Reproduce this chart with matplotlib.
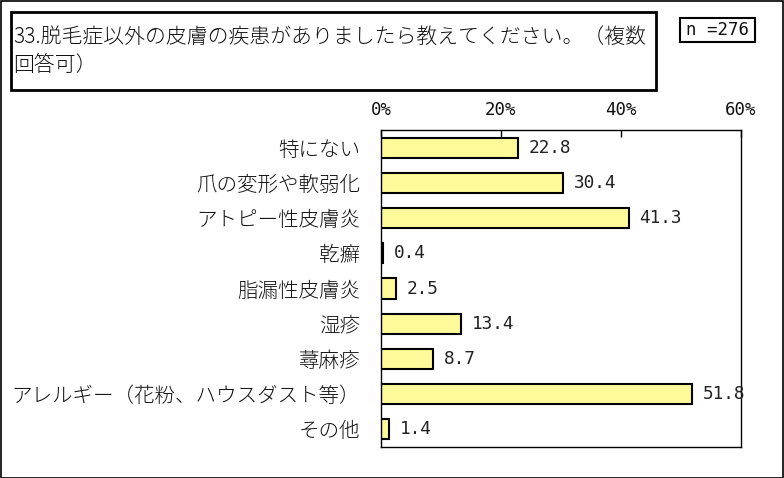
import matplotlib
matplotlib.use("Agg")
import matplotlib.pyplot as plt
from matplotlib.patches import Rectangle

plt.rcParams['font.family'] = ['Noto Sans CJK JP', 'DejaVu Sans']

categories = ["特にない", "爪の変形や軟弱化", "アトピー性皮膚炎", "乾癬", "脂漏性皮膚炎",
              "湿疹", "蕁麻疹", "アレルギー（花粉、ハウスダスト等）", "その他"]
values = [22.8, 30.4, 41.3, 0.4, 2.5, 13.4, 8.7, 51.8, 1.4]
xticks = [0, 20, 40, 60]
xtick_labels = ["0%", "20%", "40%", "60%"]
title = "33.脱毛症以外の皮膚の疾患がありましたら教えてください。（複数\n回答可）"
n_label = "n =276"

W, H = 784, 478
fig = plt.figure(figsize=(W / 100, H / 100), dpi=100)
mono = ['DejaVu Sans Mono']

# outer frame
fig.add_artist(Rectangle((0.5 / W, 0.5 / H), 1 - 1.5 / W, 1 - 1.5 / H, transform=fig.transFigure,
                         fill=False, edgecolor="black", linewidth=1.2))

# title box
x0, y0, x1, y1 = 11, 12, 656, 90
fig.add_artist(Rectangle((x0 / W, 1 - y1 / H), (x1 - x0) / W, (y1 - y0) / H, transform=fig.transFigure,
                         fill=False, edgecolor="black", linewidth=2))
fig.text(13 / W, 1 - 37 / H, title.split("\n")[0], ha="left", va="center", fontsize=15,
         fontweight="light", color="#111111")
fig.text(13 / W, 1 - 65 / H, title.split("\n")[1], ha="left", va="center", fontsize=15,
         fontweight="light", color="#111111")

# n box
nx0, ny0, nx1, ny1 = 680, 18, 755, 42
fig.add_artist(Rectangle((nx0 / W, 1 - ny1 / H), (nx1 - nx0) / W, (ny1 - ny0) / H, transform=fig.transFigure,
                         fill=False, edgecolor="black", linewidth=1.5))
fig.text((nx0 + nx1) / 2 / W, 1 - (ny0 + ny1) / 2 / H, n_label, ha="center", va="center",
         fontsize=12.5, family=mono, color="#111111")

left, right, top, bottom = 381, 741, 130, 447
ax = fig.add_axes([left / W, 1 - bottom / H, (right - left) / W, (bottom - top) / H])
ypos = list(range(len(categories)))
ax.barh(ypos, values, height=0.57, color="#FFFA99", edgecolor="black", linewidth=1.5, zorder=2)
ax.set_xlim(0, 60)
ax.set_ylim(len(categories) - 0.5, -0.5)
ax.set_yticks(ypos)
ax.set_yticklabels(categories, fontsize=14.8, fontweight="light", color="#111111")
ax.tick_params(axis="y", length=0, pad=15)
ax.xaxis.tick_top()
ax.set_xticks(xticks)
ax.set_xticklabels(xtick_labels, fontsize=12.5, family=mono, color="#111111")
ax.tick_params(axis="x", direction="in", length=5, pad=8, width=1)
for s in ax.spines.values():
    s.set_linewidth(1)
    s.set_color("black")
for y, v in zip(ypos, values):
    ax.text(v + 1.8, y, f"{v:.1f}", va="center", ha="left", fontsize=12.8, family=mono,
            color="#222222", zorder=5, clip_on=False)

fig.savefig("out.png", dpi=100)
